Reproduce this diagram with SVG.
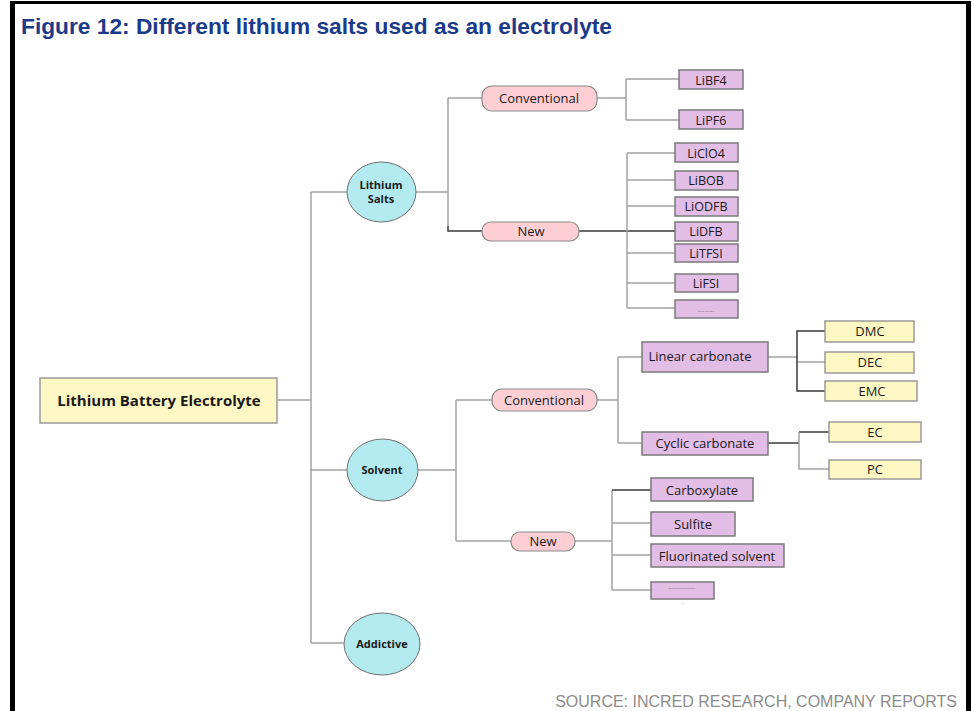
<svg xmlns="http://www.w3.org/2000/svg" width="974" height="711" viewBox="0 0 974 711">
<style>
.frame{fill:#000}
.title{font-family:"Liberation Sans",Arial,sans-serif;font-weight:bold;font-size:22px;fill:#1b3a8a}
.src{font-family:"Liberation Sans",Arial,sans-serif;font-size:16px;fill:#8c8c8c}
.ln{stroke:#a3a3a3;stroke-width:1.5;fill:none}
.dk{stroke:#3a3a3a;stroke-width:1.5;fill:none}
.ell{fill:#b3eaf0;stroke:#707070;stroke-width:1}
.pill{fill:#fdcfd4;stroke:#8a8a8a;stroke-width:1.2}
.pur{fill:#e2bde6;stroke:#7a7a7a;stroke-width:1.5}
.yel{fill:#fdf7c3;stroke:#9a9a9a;stroke-width:1.5}
.t{font-family:"Open Sans","Noto Sans",sans-serif;font-size:13px;fill:#1a1a1a;text-anchor:middle}
.s{font-size:12.5px}
.tb{font-family:"Open Sans","Noto Sans",sans-serif;font-weight:bold;font-size:11px;fill:#1a1a1a;text-anchor:middle}
</style>
<rect class="frame" x="10" y="1" width="961" height="3"/>
<rect class="frame" x="10" y="1" width="5" height="710"/>
<rect class="frame" x="966" y="1" width="5" height="710"/>
<text class="title" x="21" y="34" textLength="591" lengthAdjust="spacingAndGlyphs">Figure 12: Different lithium salts used as an electrolyte</text>
<text class="src" x="957" y="707" text-anchor="end">SOURCE: INCRED RESEARCH, COMPANY REPORTS</text>

<g id="connectors">
<path class="ln" d="M277 400H311M311 192V643M311 192H347M311 470H347M311 643H344"/>
<path class="ln" d="M416 192H448M448 98V226M448 98H482"/>
<path class="dk" d="M448 226V231H482M579 231H675"/>
<path class="ln" d="M597 98H626M626 79V120M626 79H679M626 120H679"/>
<path class="ln" d="M627 153V308M627 153H675M627 180H675M627 206H675M627 253H675M627 283H675M627 308H675"/>
<path class="ln" d="M418 470H456M456 400V541M456 400H492M456 541H511"/>
<path class="ln" d="M597 400H618M618 357V443M618 357H642M618 443H642"/>
<path class="ln" d="M768 357H797M797 362H825"/>
<path class="dk" d="M825 331H797V391H825"/>
<path class="dk" d="M768 443H799M799 432H829"/>
<path class="ln" d="M799 432V469H829"/>
<path class="ln" d="M575 541H612M612 490V590M612 523H651M612 555H651M612 590H651"/>
<path class="dk" d="M612 490H651"/>
</g>

<g id="root"><rect class="yel" x="40" y="378" width="237" height="45"/><text class="t" x="159" y="406" style="font-weight:bold;font-size:15px">Lithium Battery Electrolyte</text></g>

<g id="lithium-salts"><ellipse class="ell" cx="381.5" cy="192" rx="34.5" ry="30"/><text class="tb" x="381" y="189">Lithium</text><text class="tb" x="381" y="203">Salts</text></g>
<g id="solvent"><ellipse class="ell" cx="382.5" cy="470" rx="35.5" ry="31"/><text class="tb" x="382" y="474">Solvent</text></g>
<g id="addictive"><ellipse class="ell" cx="382" cy="644" rx="38" ry="31"/><text class="tb" x="382" y="648">Addictive</text></g>

<g id="salts-conventional"><rect class="pill" x="482" y="86" width="115" height="25" rx="10"/><text class="t" x="539" y="103">Conventional</text></g>
<g id="salts-new"><rect class="pill" x="482" y="222" width="97" height="19" rx="9"/><text class="t" x="531" y="236">New</text></g>

<g id="libf4"><rect class="pur" x="679" y="70" width="64" height="19"/><text class="t s" x="711" y="85">LiBF4</text></g>
<g id="lipf6"><rect class="pur" x="679" y="110" width="64" height="19"/><text class="t s" x="711" y="125">LiPF6</text></g>
<g id="liclo4"><rect class="pur" x="675" y="143" width="63" height="19"/><text class="t s" x="706" y="158">LiClO4</text></g>
<g id="libob"><rect class="pur" x="675" y="171" width="63" height="19"/><text class="t s" x="706" y="185">LiBOB</text></g>
<g id="liodfb"><rect class="pur" x="675" y="197" width="63" height="19"/><text class="t s" x="706" y="211">LiODFB</text></g>
<g id="lidfb"><rect class="pur" x="675" y="222" width="63" height="19"/><text class="t s" x="706" y="236">LiDFB</text></g>
<g id="litfsi"><rect class="pur" x="675" y="244" width="63" height="18"/><text class="t s" x="706" y="258">LiTFSI</text></g>
<g id="lifsi"><rect class="pur" x="675" y="274" width="63" height="18"/><text class="t s" x="706" y="288">LiFSI</text></g>
<g id="salts-more"><rect class="pur" x="675" y="300" width="63" height="18"/><text class="t" x="706" y="312" style="font-size:5px;letter-spacing:0.3px">..........</text></g>

<g id="solvent-conventional"><rect class="pill" x="492" y="389" width="105" height="22" rx="10"/><text class="t" x="544" y="405">Conventional</text></g>
<g id="solvent-new"><rect class="pill" x="511" y="532" width="64" height="19" rx="9"/><text class="t" x="543" y="546">New</text></g>

<g id="linear-carbonate"><rect class="pur" x="642" y="342" width="126" height="30"/><text class="t" x="700" y="361">Linear carbonate</text></g>
<g id="cyclic-carbonate"><rect class="pur" x="642" y="432" width="126" height="23"/><text class="t" x="705" y="448">Cyclic carbonate</text></g>
<g id="dmc"><rect class="yel" x="825" y="321" width="89" height="21"/><text class="t" x="870" y="336">DMC</text></g>
<g id="dec"><rect class="yel" x="825" y="352" width="89" height="21"/><text class="t" x="870" y="367">DEC</text></g>
<g id="emc"><rect class="yel" x="825" y="381" width="92" height="20"/><text class="t" x="872" y="396">EMC</text></g>
<g id="ec"><rect class="yel" x="829" y="422" width="92" height="20"/><text class="t" x="875" y="437">EC</text></g>
<g id="pc"><rect class="yel" x="829" y="460" width="92" height="19"/><text class="t" x="875" y="474">PC</text></g>

<g id="carboxylate"><rect class="pur" x="651" y="478" width="102" height="23"/><text class="t" x="702" y="495">Carboxylate</text></g>
<g id="sulfite"><rect class="pur" x="651" y="512" width="84" height="24"/><text class="t" x="693" y="529">Sulfite</text></g>
<g id="fluorinated"><rect class="pur" x="651" y="544" width="133" height="23"/><text class="t" x="717" y="561">Fluorinated solvent</text></g>
<g id="solvent-more"><rect class="pur" x="651" y="582" width="63" height="17"/><text class="t" x="682" y="589" style="font-size:5px;letter-spacing:0.2px">..................</text><text class="t" x="683" y="604" style="font-size:5px">.</text></g>
</svg>
